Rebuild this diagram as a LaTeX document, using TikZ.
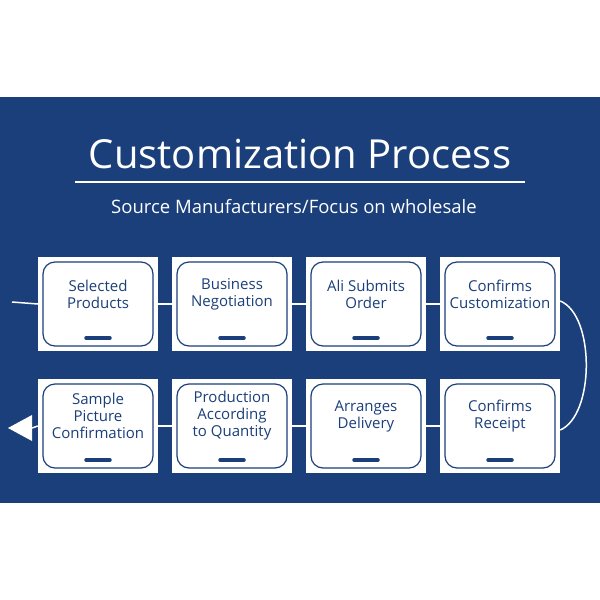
\documentclass[tikz,border=0pt]{standalone}
\usepackage{fontspec}
\setmainfont{Open Sans}
\definecolor{bg}{HTML}{1B3F7A}
\begin{document}
\begin{tikzpicture}[x=1pt,y=-1pt,
  outer/.style={fill=white,minimum width=120pt,minimum height=94pt,inner sep=0pt},
  inner/.style={draw=bg,line width=1.2pt,rounded corners=12pt},
  lbl/.style={text=bg,font=\fontsize{15}{17}\selectfont,align=center},
  con/.style={draw=white,line width=1.5pt}]
\useasboundingbox (0,0) rectangle (600,600);
\fill[white] (0,0) rectangle (600,600);
\fill[bg] (0,97) rectangle (600,503);
\node[text=white,font=\fontsize{40}{44}\selectfont] (title) at (300,154) {Customization Process};
\draw[white,line width=1.2pt] (75,182) -- (525,182);
\node[text=white,font=\fontsize{18.5}{22}\selectfont] (sub) at (294,207) {Source Manufacturers/Focus on wholesale};
\coordinate (lstart) at (12,302);
\coordinate (tip) at (8,428);
\foreach \n/\x/\y/\t in {a/98/304/{Selected\\Products}, b/232/304/{Business\\Negotiation}, c/366/304/{Ali Submits\\Order}, d/500/304/{Confirms\\Customization},
  h/98/426/{Sample\\Picture\\Confirmation}, g/232/426/{Production\\According\\to Quantity}, f/366/426/{Arranges\\Delivery}, e/500/426/{Confirms\\Receipt}}{
  \node[outer] (\n) at (\x,\y) {};
  \draw[inner] (\x-55,\y-42) rectangle (\x+55,\y+42);
  \node[lbl] (\n t) at (\x,\y-10) {\t};
  \draw[bg,line width=3.5pt,line cap=round] (\x-12,\y+34) -- (\x+12,\y+34);
}
\draw[con] (lstart) -- (a.west);
\draw[con] (a.east) -- (b.west) (b.east) -- (c.west) (c.east) -- (d.west);
\draw[con] (e.west) -- (f.east) (f.west) -- (g.east) (g.west) -- (h.east);
\draw[con] ([yshift=3pt]d.east) .. controls (595,315) and (595,415) .. ([yshift=-4pt]e.east);
\fill[white] (tip) -- (32,415) -- (32,441) -- cycle;
\draw[con] (32,428) -- (h.west);
\end{tikzpicture}
\end{document}
